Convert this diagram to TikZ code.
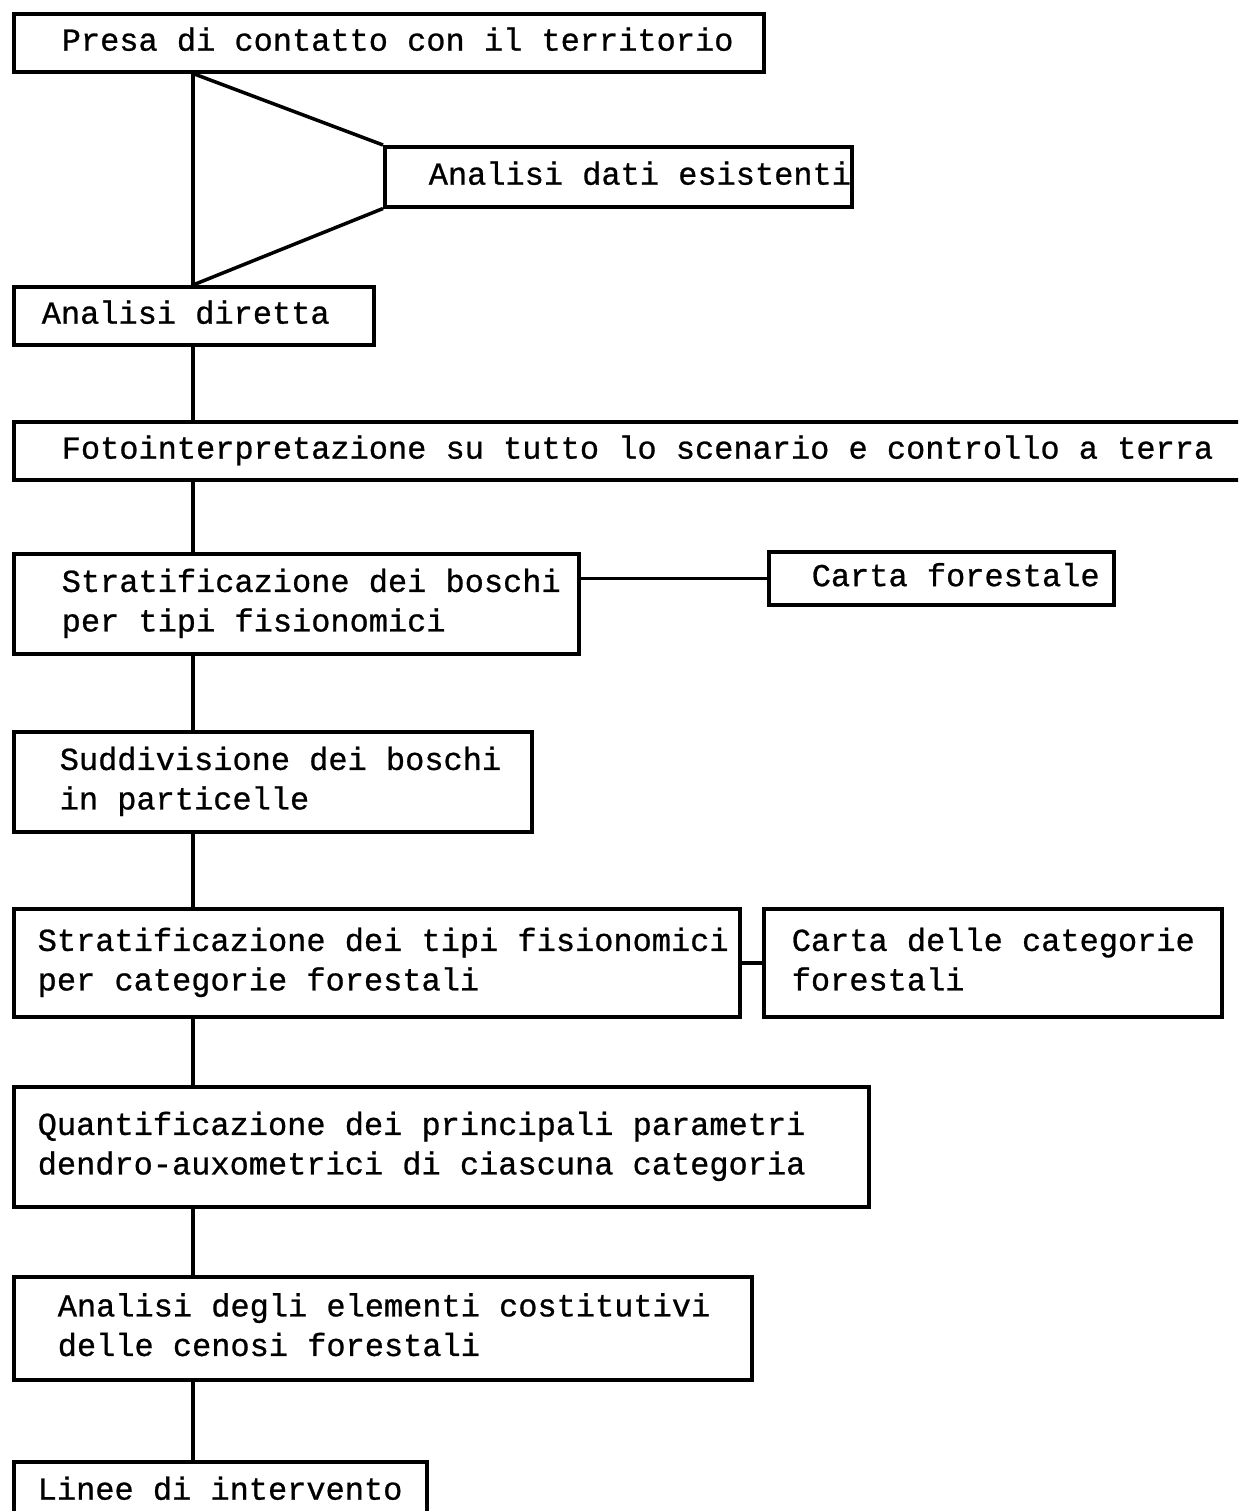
\documentclass[tikz,border=0pt]{standalone}
\usepackage{fontspec}
\usepackage{tikz}
\usetikzlibrary{positioning}
\newfontfamily\mono{Liberation Mono}[FakeBold=0.8]
% fixed word spaces (align=left would squeeze them)
\newcommand{\boxtext}[2]{{\spaceskip=0.6em\relax\xspaceskip=0.6em\relax
	\begin{tabular}{@{\hspace{#1}}l@{}}#2\end{tabular}}}
\newcommand{\typewriter}{\mono\fontsize{18.2}{22.5}\selectfont}

\tikzset{
	stepbox/.style={draw, line width=2pt, anchor=north west, inner xsep=0pt, inner ysep=0pt, align=left,
		font=\typewriter},
	link/.style={line width=2pt}
}

\begin{document}
\begin{tikzpicture}
\clip (0,0) rectangle (24.76,-30.22);

\coordinate (spine) at (3.86,0);

\node[stepbox, text width=15cm, minimum height=1.16cm] (presa) at (0.24,-0.24) {\boxtext{0.96cm}{Presa di contatto con il territorio}};
\node[stepbox, text width=9.34cm, minimum height=1.2cm] (dati) at (7.66,-2.9) {\boxtext{0.88cm}{Analisi dati esistenti}};
\node[stepbox, text width=7.2cm, minimum height=1.16cm] (diretta) at (0.24,-5.7) {\boxtext{0.56cm}{Analisi diretta}};
\node[stepbox, text width=25cm, minimum height=1.16cm] (foto) at (0.24,-8.4) {\boxtext{0.96cm}{Fotointerpretazione su tutto lo scenario e controllo a terra}};
\node[stepbox, text width=11.3cm, minimum height=2cm] (stratboschi) at (0.24,-11.04) {\boxtext{0.96cm}{Stratificazione dei boschi\\per tipi fisionomici}};
\node[stepbox, text width=6.9cm, minimum height=1.06cm] (cartafor) at (15.34,-11) {\boxtext{0.86cm}{Carta forestale}};
\node[stepbox, text width=10.36cm, minimum height=2cm] (suddiv) at (0.24,-14.6) {\boxtext{0.92cm}{Suddivisione dei boschi\\in particelle}};
\node[stepbox, text width=14.52cm, minimum height=2.16cm] (strattipi) at (0.24,-18.14) {\boxtext{0.48cm}{Stratificazione dei tipi fisionomici\\per categorie forestali}};
\node[stepbox, text width=9.16cm, minimum height=2.16cm] (cartacat) at (15.24,-18.14) {\boxtext{0.56cm}{Carta delle categorie\\forestali}};
\node[stepbox, text width=17.1cm, minimum height=2.4cm] (quant) at (0.24,-21.7) {\boxtext{0.48cm}{Quantificazione dei principali parametri\\dendro-auxometrici di ciascuna categoria}};
\node[stepbox, text width=14.76cm, minimum height=2.06cm] (elementi) at (0.24,-25.5) {\boxtext{0.88cm}{Analisi degli elementi costitutivi\\delle cenosi forestali}};
\node[stepbox, text width=8.26cm, minimum height=1.2cm] (linee) at (0.24,-29.2) {\boxtext{0.48cm}{Linee di intervento}};

% main line
\foreach \a/\b in {presa/diretta, diretta/foto, foto/stratboschi, stratboschi/suddiv,
	suddiv/strattipi, strattipi/quant, quant/elementi, elementi/linee}
	\draw[link] (\a.south -| spine) -- (\b.north -| spine);

% branch to existing data
\draw[link] (presa.south -| spine) -- (dati.north west);
\draw[link] (dati.south west) -- (diretta.north -| spine);

% maps
\draw[link] (cartafor.west) -- (cartafor.west -| stratboschi.east);
\draw[link] (cartacat.west) -- (cartacat.west -| strattipi.east);

\end{tikzpicture}
\end{document}
